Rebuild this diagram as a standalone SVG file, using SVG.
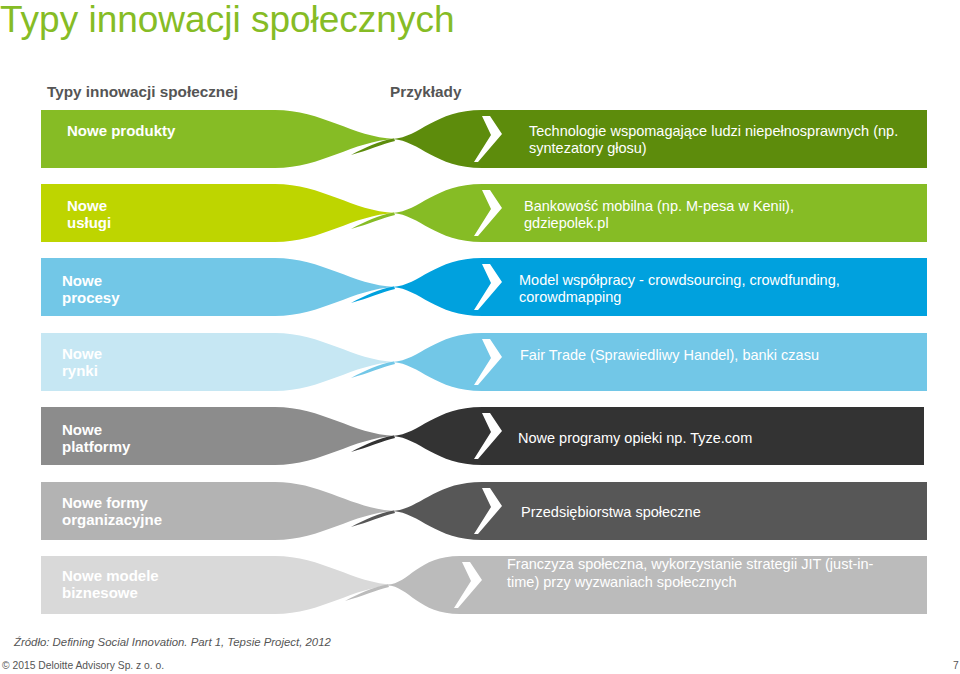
<svg xmlns="http://www.w3.org/2000/svg" width="960" height="674" viewBox="0 0 960 674">
<style>
text{font-family:"Liberation Sans",Arial,Helvetica,sans-serif}
.title{font-size:37px;fill:#86bc25}
.hdr{font-size:15.3px;font-weight:bold;fill:#555}
.lbl{font-size:15px;font-weight:bold;fill:#fff}
.ex{font-size:14.5px;fill:#fff}
.src{font-size:11.4px;font-style:italic;fill:#555}
.foot{font-size:10.3px;fill:#555}
.chev{fill:#fff}
</style>
<defs>
<path id="L" d="M41,0 H275 C322,0 352,27 395,29 C352,31 322,58 275,58 H41 Z"/>
<path id="R" d="M393,29 C420,27 435,0 482,0 H927 V58 H482 C435,58 420,31 393,29 Z M394,28.5 C379,31 366,37 351,45 C369,40 382,34 395,31 Z"/>
<path id="R5" d="M393,29 C420,27 435,0 482,0 H924 V58 H482 C435,58 420,31 393,29 Z M394,28.5 C379,31 366,37 351,45 C369,40 382,34 395,31 Z"/>
<path id="R7" d="M387,29 C410,27 418,0 460,0 H927 V58 H460 C418,58 410,31 387,29 Z M388,28.5 C373,31 360,37 345,45 C363,40 376,34 389,31 Z"/>
<path id="C" d="M482,6 L490,6 L502,24 L478,52 L474,52 L491,25 Z"/>
</defs>
<text class="title" x="0" y="32">Typy innowacji społecznych</text>
<text class="hdr" x="47" y="97">Typy innowacji społecznej</text>
<text class="hdr" x="390" y="97">Przykłady</text>

<g id="row1" transform="translate(0,110)">
<use href="#L" fill="#86bc25"/><use href="#R" fill="#5d8c0c"/><use href="#C" class="chev"/>
</g>
<g id="node1-label"><text class="lbl" x="67" y="136">Nowe produkty</text></g>
<g id="node1-example"><text class="ex" x="529" y="136">Technologie wspomagające ludzi niepełnosprawnych (np.</text><text class="ex" x="529" y="153">syntezatory głosu)</text></g>

<g id="row2" transform="translate(0,184)">
<use href="#L" fill="#bed500"/><use href="#R" fill="#86bc25"/><use href="#C" class="chev"/>
</g>
<g id="node2-label"><text class="lbl" x="67" y="211">Nowe</text><text class="lbl" x="67" y="228">usługi</text></g>
<g id="node2-example"><text class="ex" x="524" y="211">Bankowość mobilna (np. M-pesa w Kenii),</text><text class="ex" x="524" y="228">gdziepolek.pl</text></g>

<g id="row3" transform="translate(0,258)">
<use href="#L" fill="#72c7e7"/><use href="#R" fill="#00a1de"/><use href="#C" class="chev"/>
</g>
<g id="node3-label"><text class="lbl" x="62" y="286">Nowe</text><text class="lbl" x="62" y="303">procesy</text></g>
<g id="node3-example"><text class="ex" x="519" y="285">Model współpracy - crowdsourcing, crowdfunding,</text><text class="ex" x="519" y="302">corowdmapping</text></g>

<g id="row4" transform="translate(0,333)">
<use href="#L" fill="#c6e7f3"/><use href="#R" fill="#72c7e7"/><use href="#C" class="chev"/>
</g>
<g id="node4-label"><text class="lbl" x="62" y="359">Nowe</text><text class="lbl" x="62" y="376">rynki</text></g>
<g id="node4-example"><text class="ex" x="520" y="360">Fair Trade (Sprawiedliwy Handel), banki czasu</text></g>

<g id="row5" transform="translate(0,407)">
<use href="#L" fill="#8c8c8c"/><use href="#R5" fill="#333333"/><use href="#C" class="chev"/>
</g>
<g id="node5-label"><text class="lbl" x="62" y="435">Nowe</text><text class="lbl" x="62" y="452">platformy</text></g>
<g id="node5-example"><text class="ex" x="518" y="443">Nowe programy opieki np. Tyze.com</text></g>

<g id="row6" transform="translate(0,482)">
<use href="#L" fill="#b3b3b3"/><use href="#R" fill="#575757"/><use href="#C" class="chev"/>
</g>
<g id="node6-label"><text class="lbl" x="62" y="508">Nowe formy</text><text class="lbl" x="62" y="525">organizacyjne</text></g>
<g id="node6-example"><text class="ex" x="521" y="517">Przedsiębiorstwa społeczne</text></g>

<g id="row7" transform="translate(0,556)">
<use href="#L" fill="#d9d9d9"/><use href="#R7" fill="#bbbbbb"/><use href="#C" class="chev" transform="translate(-20,0)"/>
</g>
<g id="node7-label"><text class="lbl" x="62" y="581">Nowe modele</text><text class="lbl" x="62" y="598">biznesowe</text></g>
<g id="node7-example"><text class="ex" x="507" y="569">Franczyza społeczna, wykorzystanie strategii JIT (just-in-</text><text class="ex" x="507" y="587">time) przy wyzwaniach społecznych</text></g>

<g id="connectors"></g>

<text class="src" x="14" y="646">Źródło: Defining Social Innovation. Part 1, Tepsie Project, 2012</text>
<text class="foot" x="2" y="669">© 2015 Deloitte Advisory Sp. z o. o.</text>
<text class="foot" x="953" y="669">7</text>
</svg>
